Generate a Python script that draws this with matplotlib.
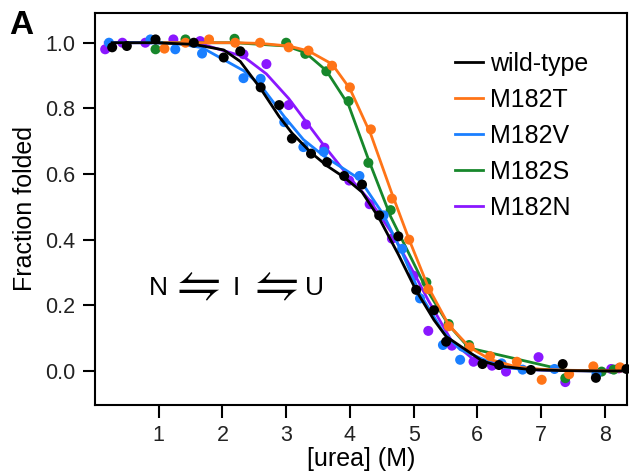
import matplotlib
matplotlib.use("Agg")
from matplotlib import pyplot as plt

plt.rcParams["font.family"] = ["Liberation Sans", "DejaVu Sans"]

# wild-type
wt_x = [0.27, 0.50, 0.95, 1.55, 2.02, 2.28, 2.60, 2.89, 3.09, 3.39, 3.64, 3.91, 4.19, 4.46,
        4.76, 5.04, 5.32, 5.51, 6.08, 6.34, 6.84, 7.34, 7.86, 8.34]
wt_y = [0.986, 0.99, 1.01, 1.00, 0.955, 0.974, 0.864, 0.81, 0.708, 0.662, 0.636, 0.594, 0.568,
        0.474, 0.41, 0.247, 0.185, 0.089, 0.021, 0.018, 0.003, 0.021, -0.021, 0.006]
wt_fit = [1.0, 1.0, 1.0, 0.995, 0.978, 0.943, 0.86, 0.775, 0.725, 0.665, 0.625, 0.59, 0.545,
          0.465, 0.355, 0.245, 0.155, 0.105, 0.03, 0.015, 0.004, 0.001, 0.0, 0.0]

# M182T
t_x = [1.09, 1.42, 1.79, 2.20, 2.59, 3.04, 3.35, 3.72, 4.00, 4.33, 4.66, 4.93, 5.23, 5.55,
       5.88, 6.20, 6.62, 7.01, 7.44, 7.82, 8.24]
t_y = [0.982, 1.00, 1.01, 1.00, 1.00, 0.986, 0.976, 0.93, 0.864, 0.736, 0.525, 0.40, 0.249,
       0.136, 0.072, 0.045, 0.028, -0.027, -0.01, 0.014, 0.011]
t_fit = [1.0, 1.0, 1.0, 1.0, 0.998, 0.99, 0.975, 0.935, 0.86, 0.72, 0.54, 0.40, 0.255, 0.14,
         0.072, 0.035, 0.012, 0.005, 0.002, 0.001, 0.0]

# M182V
v_x = [0.22, 0.87, 1.26, 1.68, 2.33, 2.60, 2.97, 3.27, 3.59, 4.15, 4.53, 4.82, 5.10, 5.46,
       5.73, 6.38, 6.71, 7.21, 7.87]
v_y = [1.00, 1.01, 0.98, 0.967, 0.892, 0.89, 0.758, 0.682, 0.668, 0.594, 0.474, 0.372, 0.221,
       0.079, 0.034, 0.023, 0.004, 0.006, -0.009]
v_fit = [1.0, 1.0, 0.998, 0.985, 0.915, 0.87, 0.775, 0.705, 0.655, 0.585, 0.475, 0.36, 0.235,
         0.12, 0.065, 0.012, 0.005, 0.002, 0.0]

# M182S
s_x = [0.95, 1.42, 2.19, 3.00, 3.30, 3.63, 3.98, 4.29, 4.64, 5.20, 5.55, 5.87, 7.38, 7.95, 8.14]
s_y = [0.98, 1.01, 1.012, 1.0, 0.966, 0.913, 0.822, 0.634, 0.49, 0.27, 0.143, 0.079, -0.022,
       -0.002, 0.004]
s_fit = [1.0, 1.0, 1.0, 0.99, 0.97, 0.915, 0.81, 0.645, 0.47, 0.25, 0.14, 0.07, 0.002, 0.0, 0.0]

# M182N
n_x = [0.16, 0.43, 0.79, 1.23, 1.65, 2.33, 2.69, 3.04, 3.31, 3.60, 3.99, 4.31, 4.66, 5.00,
       5.23, 5.60, 5.94, 6.23, 6.45, 6.96, 7.38, 8.10, 8.22]
n_y = [0.98, 1.00, 1.00, 1.01, 1.005, 0.965, 0.935, 0.81, 0.751, 0.68, 0.58, 0.508, 0.403,
       0.29, 0.122, 0.077, 0.028, 0.016, -0.002, 0.042, -0.034, 0.006, 0.008]
n_fit = [1.0, 1.0, 1.0, 1.0, 0.997, 0.958, 0.905, 0.83, 0.76, 0.685, 0.59, 0.52, 0.42, 0.30,
         0.215, 0.09, 0.035, 0.018, 0.01, 0.003, 0.001, 0.0, 0.0]

series = [
    ("wild-type", wt_x, wt_y, wt_fit, "black"),
    ("M182T", t_x, t_y, t_fit, "#ff7417"),
    ("M182V", v_x, v_y, v_fit, "#1a7fff"),
    ("M182S", s_x, s_y, s_fit, "#17872b"),
    ("M182N", n_x, n_y, n_fit, "#8a17ff"),
]

# scheme text pieces and where they sit (data coords)
scheme = ["N", "\u21cb", "I", "\u21cb", "U"]
scheme_x = [0.995, 1.62, 2.22, 2.85, 3.45]

fig = plt.figure(figsize=(6.29, 4.76), dpi=100)
ax = fig.add_axes([0.151, 0.149, 0.846, 0.824])

handles = {}
# reverse order so that wild-type sits on top
for z, (name, x, y, fit, color) in enumerate(reversed(series)):
    ax.scatter(x, y, s=52, color=color, edgecolors="none", zorder=2 + z, clip_on=False)
    line, = ax.plot(x, fit, color=color, lw=2.0, zorder=2 + z)
    handles[name] = line

names = [s[0] for s in series]
ax.legend([handles[n] for n in names], names, loc="upper right", bbox_to_anchor=(0.97, 0.958),
          frameon=False, fontsize=18, handlelength=1.1, handletextpad=0.3, labelspacing=0.48)

for label, xpos in zip(scheme, scheme_x):
    if label == "\u21cb":
        ax.text(xpos, 0.254, label, fontsize=36, ha="center", va="center",
                family=["STIXGeneral", "DejaVu Sans"])
    else:
        ax.text(xpos, 0.252, label, fontsize=19, ha="center", va="center")

ax.set_xlim(0, 8.35)
ax.set_ylim(-0.104, 1.091)
ax.set_xticks(range(1, 9))
ax.set_yticks([0.0, 0.2, 0.4, 0.6, 0.8, 1.0])
ax.set_yticklabels(["0.0", "0.2", "0.4", "0.6", "0.8", "1.0"])
ax.tick_params(axis="both", labelsize=15.5, length=9, width=1.5, pad=5, labelcolor="#222222")
for sp in ax.spines.values():
    sp.set_linewidth(1.5)

ax.set_xlabel("[urea] (M)", fontsize=18, labelpad=1)
ax.set_ylabel("Fraction folded", fontsize=18, labelpad=6)

fig.text(0.014, 0.978, "A", fontsize=24, fontweight="bold", va="top", ha="left")

fig.savefig("out.png", dpi=100)
